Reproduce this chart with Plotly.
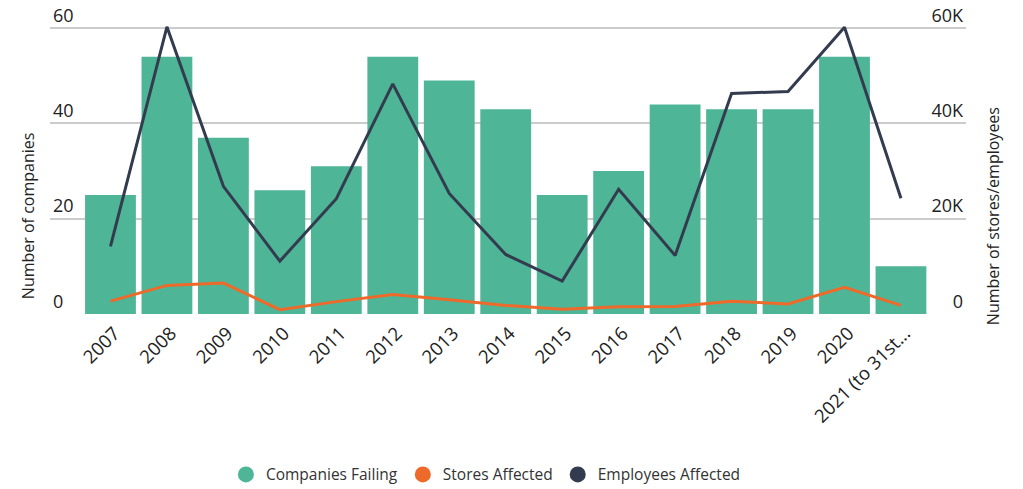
import plotly.graph_objects as go

categories = ["2007", "2008", "2009", "2010", "2011", "2012", "2013", "2014",
              "2015", "2016", "2017", "2018", "2019", "2020", "2021 (to 31st..."]
companies_failing = [25, 54, 37, 26, 31, 54, 49, 43, 25, 30, 44, 43, 43, 54, 10]
stores_affected = [2700, 6000, 6500, 900, 2600, 4100, 3000, 1800, 1000, 1500,
                   1600, 2700, 2100, 5600, 1800]
employees_affected = [14200, 60300, 26800, 11100, 24200, 48300, 25300, 12500,
                      6900, 26200, 12300, 46300, 46700, 60200, 24300]

left_ticks = [0, 20, 40, 60]
right_ticks = [0, 20000, 40000, 60000]
right_tick_text = ["0", "20K", "40K", "60K"]

GREEN = "#4EB597"
ORANGE = "#EE6A2B"
NAVY = "#333C4F"
FONT = "Open Sans"

fig = go.Figure()
fig.add_trace(go.Bar(x=categories, y=companies_failing, name="Companies Failing",
                     marker=dict(color=GREEN, line=dict(width=0)), showlegend=False))
fig.add_trace(go.Scatter(x=categories, y=stores_affected, name="Stores Affected",
                         mode="lines", line=dict(color=ORANGE, width=3),
                         yaxis="y2", showlegend=False))
fig.add_trace(go.Scatter(x=categories, y=employees_affected, name="Employees Affected",
                         mode="lines", line=dict(color=NAVY, width=3),
                         yaxis="y2", showlegend=False))

# legend entries with circular symbols
for name, color in [("Companies Failing", GREEN), ("Stores Affected", ORANGE),
                    ("Employees Affected", NAVY)]:
    fig.add_trace(go.Scatter(x=[None], y=[None], mode="markers", name=name,
                             marker=dict(color=color, size=20, symbol="circle"),
                             showlegend=True))

fig.update_layout(
    width=1023, height=489,
    margin=dict(l=50, r=57, t=1.5, b=175),
    paper_bgcolor="white", plot_bgcolor="white",
    font=dict(family=FONT, color="#222222"),
    bargap=0.1,
    showlegend=True,
    legend=dict(orientation="h", xref="container", yref="container",
                x=0.475, xanchor="center", y=0.029, yanchor="middle",
                font=dict(family=FONT, size=15.5, color="#333333"),
                itemsizing="trace", traceorder="normal"),
    xaxis=dict(range=[-1.071, 15.152], showgrid=False, showline=False,
               zeroline=False, ticks="", tickangle=-45,
               ticklabelshift=4, ticklabelstandoff=4,
               tickfont=dict(family=FONT, size=18.5, color="#222222")),
    yaxis=dict(range=[0, 65.5], tickvals=left_ticks, showgrid=True,
               gridcolor="#cccccc", gridwidth=2, zeroline=False, showline=False,
               ticks="", ticklabelposition="inside top",
               tickfont=dict(family=FONT, size=18, color="#222222")),
    yaxis2=dict(range=[0, 65500], tickvals=right_ticks, ticktext=right_tick_text,
                overlaying="y", side="right", showgrid=False, zeroline=False,
                showline=False, ticks="", ticklabelposition="inside top",
                tickfont=dict(family=FONT, size=18, color="#222222")),
)

# axis titles (placed as in the reference, lower than the plot centre)
fig.add_annotation(text="Number of companies", textangle=-90, showarrow=False,
                   xref="paper", yref="paper", x=0, y=0.3136,
                   xanchor="center", yanchor="middle", xshift=-22,
                   font=dict(family=FONT, size=16, color="#222222"))
fig.add_annotation(text="Number of stores/employees", textangle=-90, showarrow=False,
                   xref="paper", yref="paper", x=1, y=0.3136,
                   xanchor="center", yanchor="middle", xshift=27,
                   font=dict(family=FONT, size=16, color="#222222"))

fig.write_html("out.html", config={"displayModeBar": False},
               post_script="document.body.style.margin='0';")
